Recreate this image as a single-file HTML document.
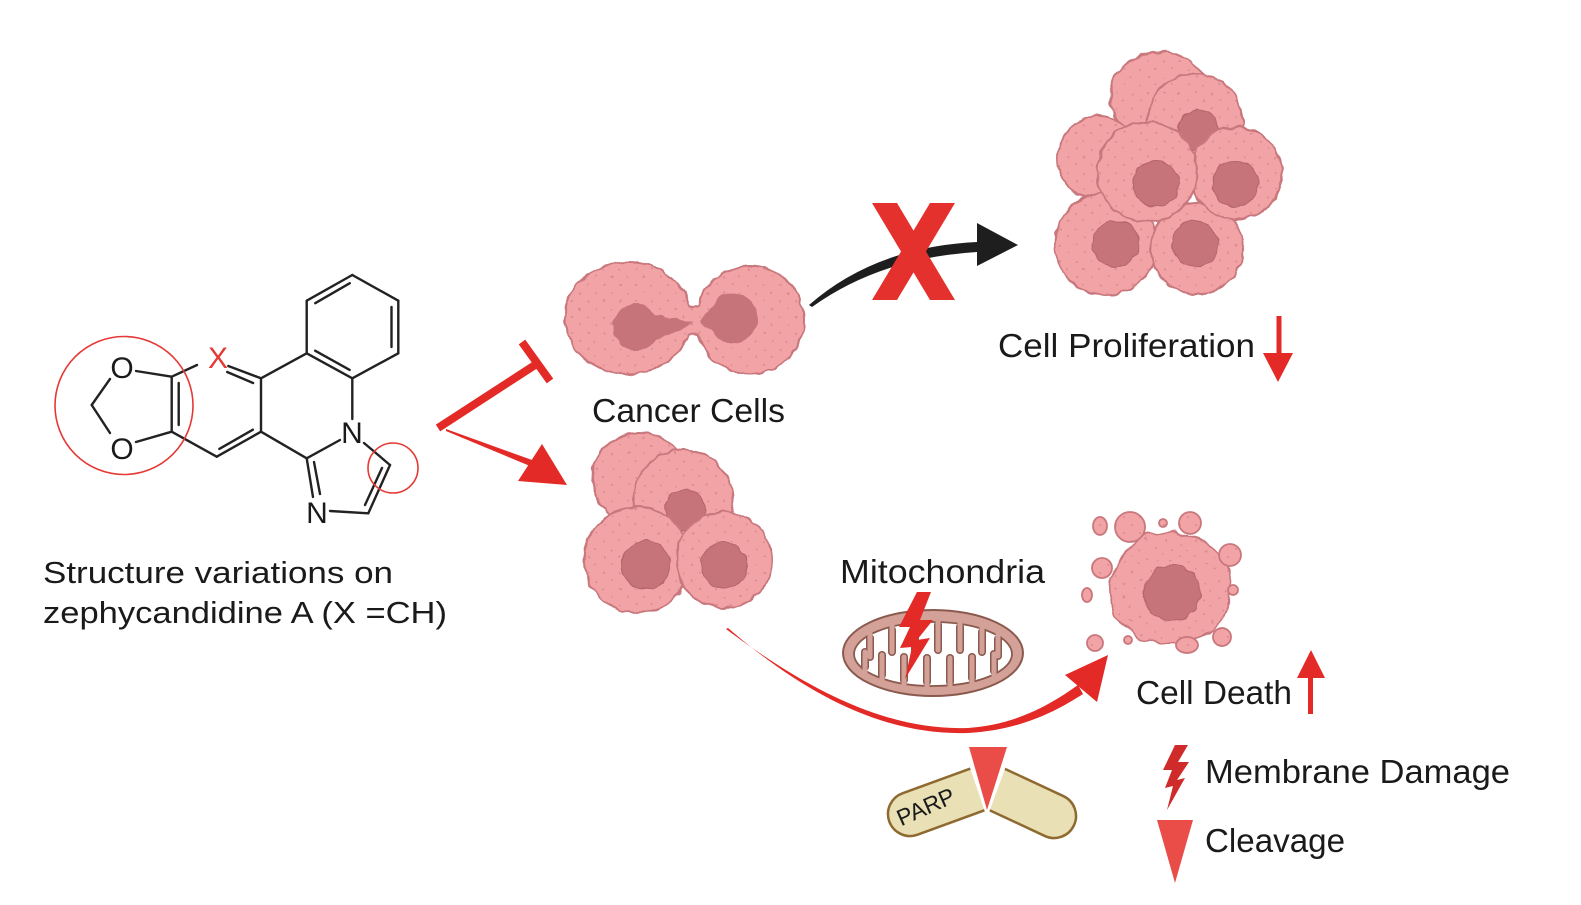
<!DOCTYPE html>
<html><head><meta charset="utf-8"><style>
html,body{margin:0;padding:0;background:#fff;}
svg{display:block;}
text{font-family:"Liberation Sans",Arial,sans-serif;fill:#1a1a1a;}
</style></head><body>
<svg width="1581" height="905" viewBox="0 0 1581 905" xmlns="http://www.w3.org/2000/svg">
<defs>
<pattern id="dots" patternUnits="userSpaceOnUse" width="16" height="16">
<rect width="16" height="16" fill="#F1A3A6"/>
<circle cx="4" cy="5" r="1" fill="#D98A8F"/>
<circle cx="12" cy="13" r="1" fill="#D98A8F"/>
</pattern>
<filter id="rough" x="-15%" y="-15%" width="130%" height="130%">
<feTurbulence type="fractalNoise" baseFrequency="0.11" numOctaves="1" seed="3"/>
<feDisplacementMap in="SourceGraphic" scale="6" xChannelSelector="R" yChannelSelector="G"/>
</filter>
<filter id="rough2" x="-25%" y="-25%" width="150%" height="150%">
<feTurbulence type="fractalNoise" baseFrequency="0.045" numOctaves="2" seed="7"/>
<feDisplacementMap in="SourceGraphic" scale="16" xChannelSelector="R" yChannelSelector="G"/>
</filter>
</defs>
<rect width="1581" height="905" fill="#fff"/>

<!-- ===== Chemical structure ===== -->
<g stroke="#222" stroke-width="2.4" fill="none" stroke-linecap="round">
<line x1="171.7" y1="376.7" x2="197" y2="365"/>
<line x1="228.3" y1="366" x2="261" y2="378.3"/>
<line x1="227.2" y1="372" x2="253.1" y2="383"/>
<line x1="261" y1="378.3" x2="261" y2="431.7"/>
<line x1="261" y1="431.7" x2="216.7" y2="456.7"/>
<line x1="252.9" y1="429.7" x2="219.3" y2="448.9"/>
<line x1="216.7" y1="456.7" x2="171.7" y2="431.7"/>
<line x1="171.7" y1="431.7" x2="171.7" y2="376.7"/>
<line x1="178.7" y1="383" x2="178.7" y2="425"/>
<line x1="171.7" y1="376.7" x2="136" y2="371"/>
<line x1="110" y1="379" x2="91.7" y2="405"/>
<line x1="91.7" y1="405" x2="110" y2="433"/>
<line x1="136" y1="442" x2="171.7" y2="431.7"/>
<line x1="261" y1="378.3" x2="306.7" y2="353.3"/>
<line x1="261" y1="431.7" x2="306.7" y2="458.3"/>
<line x1="352.3" y1="378.3" x2="352.3" y2="419"/>
<line x1="340" y1="440" x2="306.7" y2="458.3"/>
<line x1="306.7" y1="353.3" x2="306.7" y2="300.7"/>
<line x1="306.7" y1="300.7" x2="352.3" y2="275"/>
<line x1="315.2" y1="303.2" x2="349.8" y2="283.2"/>
<line x1="352.3" y1="275" x2="398.3" y2="300.7"/>
<line x1="398.3" y1="300.7" x2="398.3" y2="353.3"/>
<line x1="391.5" y1="307" x2="391.5" y2="347"/>
<line x1="398.3" y1="353.3" x2="352.3" y2="378.3"/>
<line x1="352.3" y1="378.3" x2="306.7" y2="353.3"/>
<line x1="349.7" y1="369.9" x2="315.1" y2="350.7"/>
<line x1="306.7" y1="458.3" x2="313" y2="497"/>
<line x1="314" y1="462" x2="320" y2="494"/>
<line x1="330" y1="511" x2="368.3" y2="513.3"/>
<line x1="368.3" y1="513.3" x2="390" y2="465"/>
<line x1="365" y1="505" x2="382" y2="468"/>
<line x1="390" y1="465" x2="364" y2="443"/>
</g>
<g font-size="30" text-anchor="middle">
<text x="122" y="378">O</text>
<text x="122" y="459">O</text>
<text x="352" y="443">N</text>
<text x="317" y="523">N</text>
<text x="218" y="368" style="fill:#E53935">X</text>
</g>
<circle cx="124" cy="405.5" r="69" fill="none" stroke="#E53935" stroke-width="1.6"/>
<circle cx="393" cy="468" r="25" fill="none" stroke="#E53935" stroke-width="1.6"/>

<text x="43" y="583" font-size="31" textLength="350" lengthAdjust="spacingAndGlyphs">Structure variations on</text>
<text x="43" y="623" font-size="31" textLength="404" lengthAdjust="spacingAndGlyphs">zephycandidine A (X =CH)</text>

<!-- ===== Inhibition & activation arrows ===== -->
<line x1="438" y1="428" x2="535" y2="365" stroke="#E32A26" stroke-width="8"/>
<line x1="522" y1="342" x2="550" y2="381" stroke="#E32A26" stroke-width="8"/>
<polygon points="446,429 532,460 530,466 446,431" fill="#E32A26"/>
<polygon points="518,481 542,444 567,485" fill="#E32A26"/>

<!-- ===== Dividing cancer cell ===== -->
<g filter="url(#rough)">
<circle cx="750" cy="320" r="53" fill="#C8777C" stroke="#C8777C" stroke-width="4"/>
<path d="M665,296 Q692,320 718,296 L718,346 Q692,320 665,346 Z" fill="#C8777C" stroke="#C8777C" stroke-width="4"/>
<ellipse cx="628" cy="318" rx="64" ry="57" fill="#C8777C"/>
<ellipse cx="628" cy="318" rx="62" ry="55" fill="url(#dots)"/>
<circle cx="750" cy="320" r="53" fill="url(#dots)"/>
<path d="M665,296 Q692,320 718,296 L718,346 Q692,320 665,346 Z" fill="url(#dots)"/>
<circle cx="636" cy="327" r="23" fill="#C7737A"/>
<polygon points="648,313 650,342 694,323" fill="#C7737A"/>
<circle cx="733" cy="318" r="25" fill="#C7737A"/>
<polygon points="716,305 716,334 700,321" fill="#C7737A"/>
</g>
<text x="592" y="422" font-size="33" textLength="193" lengthAdjust="spacingAndGlyphs">Cancer Cells</text>

<!-- ===== Bottom cluster ===== -->
<g filter="url(#rough)" stroke="#C8777C" stroke-width="2">
<ellipse cx="640" cy="478" rx="48" ry="45" fill="url(#dots)"/>
<circle cx="683" cy="500" r="50" fill="url(#dots)"/>
<circle cx="685" cy="510" r="20" fill="#C7737A" stroke="#B5646A" stroke-width="1"/>
<circle cx="637" cy="560" r="53" fill="url(#dots)"/>
<circle cx="646" cy="565" r="24" fill="#C7737A" stroke="#B5646A" stroke-width="1"/>
<circle cx="724" cy="560" r="48" fill="url(#dots)"/>
<circle cx="724" cy="565" r="23" fill="#C7737A" stroke="#B5646A" stroke-width="1"/>
</g>

<!-- ===== Black arrow with X ===== -->
<path d="M812,307 Q880,258 977,252 L977,242 Q875,247 809,305 Z" fill="#1e1e1e"/>
<polygon points="977,223 977,266 1018,245" fill="#1e1e1e"/>
<polygon points="872,203 897,203 955,300 930,300" fill="#E4312D"/>
<polygon points="930,203 955,203 897,300 872,300" fill="#E4312D"/>

<!-- ===== Proliferation cluster ===== -->
<g filter="url(#rough)" stroke="#C8777C" stroke-width="2">
<ellipse cx="1160" cy="97" rx="50" ry="45" fill="url(#dots)"/>
<circle cx="1195" cy="122" r="48" fill="url(#dots)"/>
<circle cx="1198" cy="130" r="20" fill="#C7737A" stroke="#B5646A" stroke-width="1"/>
<ellipse cx="1098" cy="158" rx="40" ry="42" fill="url(#dots)"/>
<circle cx="1106" cy="244" r="51" fill="url(#dots)"/>
<circle cx="1116" cy="244" r="23" fill="#C7737A" stroke="#B5646A" stroke-width="1"/>
<circle cx="1197" cy="248" r="46" fill="url(#dots)"/>
<circle cx="1195" cy="244" r="23" fill="#C7737A" stroke="#B5646A" stroke-width="1"/>
<circle cx="1236" cy="173" r="46" fill="url(#dots)"/>
<circle cx="1235" cy="184" r="23" fill="#C7737A" stroke="#B5646A" stroke-width="1"/>
<circle cx="1147" cy="172" r="50" fill="url(#dots)"/>
<circle cx="1156" cy="184" r="23" fill="#C7737A" stroke="#B5646A" stroke-width="1"/>
</g>
<text x="998" y="357" font-size="33" textLength="257" lengthAdjust="spacingAndGlyphs">Cell Proliferation</text>
<rect x="1276.5" y="316" width="5" height="40" fill="#E32A26"/>
<polygon points="1263,353 1293,353 1278,382" fill="#E32A26"/>

<!-- ===== Mitochondria ===== -->
<text x="840" y="583" font-size="33" textLength="205" lengthAdjust="spacingAndGlyphs">Mitochondria</text>
<ellipse cx="933" cy="653" rx="90" ry="43" fill="#D4A198" stroke="#8A5A4E" stroke-width="2"/>
<ellipse cx="933" cy="654" rx="79" ry="32" fill="#fff" stroke="#8A5A4E" stroke-width="1.8"/>
<g stroke-linecap="round" fill="none">
<g stroke="#8A5A4E" stroke-width="8">
<line x1="870" y1="638" x2="870" y2="657"/>
<line x1="892" y1="630" x2="892" y2="652"/>
<line x1="915" y1="626" x2="915" y2="650"/>
<line x1="938" y1="625" x2="938" y2="650"/>
<line x1="960" y1="627" x2="960" y2="650"/>
<line x1="982" y1="632" x2="982" y2="652"/>
<line x1="998" y1="639" x2="998" y2="656"/>
<line x1="865" y1="667" x2="865" y2="652"/>
<line x1="882" y1="675" x2="882" y2="655"/>
<line x1="904" y1="680" x2="904" y2="657"/>
<line x1="927" y1="682" x2="927" y2="658"/>
<line x1="950" y1="682" x2="950" y2="658"/>
<line x1="972" y1="678" x2="972" y2="657"/>
<line x1="994" y1="671" x2="994" y2="654"/>
</g>
<g stroke="#D4A198" stroke-width="5">
<line x1="870" y1="632" x2="870" y2="657"/>
<line x1="892" y1="624" x2="892" y2="652"/>
<line x1="915" y1="620" x2="915" y2="650"/>
<line x1="938" y1="619" x2="938" y2="650"/>
<line x1="960" y1="621" x2="960" y2="650"/>
<line x1="982" y1="626" x2="982" y2="652"/>
<line x1="998" y1="633" x2="998" y2="656"/>
<line x1="865" y1="673" x2="865" y2="652"/>
<line x1="882" y1="681" x2="882" y2="655"/>
<line x1="904" y1="686" x2="904" y2="657"/>
<line x1="927" y1="688" x2="927" y2="658"/>
<line x1="950" y1="688" x2="950" y2="658"/>
<line x1="972" y1="684" x2="972" y2="657"/>
<line x1="994" y1="677" x2="994" y2="654"/>
</g>
</g>
<polygon points="917,592 931,592 920,620 933,620 917,640 930,638 905,679 912,647 900,648 910,627 899,627" fill="#E32A26"/>

<!-- ===== Dead cell ===== -->
<g filter="url(#rough2)">
<ellipse cx="1171" cy="588" rx="62" ry="56" fill="#C8777C"/>
<ellipse cx="1171" cy="588" rx="60" ry="54" fill="url(#dots)"/>
</g>
<g filter="url(#rough)">
<circle cx="1172" cy="593" r="28" fill="#C7737A" stroke="#B5646A" stroke-width="1"/>
</g>
<g fill="url(#dots)" stroke="#C8777C" stroke-width="1.8">
<ellipse cx="1100" cy="526" rx="7" ry="9"/>
<circle cx="1130" cy="527" r="15"/>
<circle cx="1163" cy="523" r="4"/>
<circle cx="1190" cy="523" r="11"/>
<circle cx="1230" cy="555" r="11"/>
<circle cx="1233" cy="590" r="5"/>
<circle cx="1102" cy="568" r="10"/>
<ellipse cx="1087" cy="595" rx="5" ry="7"/>
<circle cx="1095" cy="643" r="8"/>
<circle cx="1128" cy="640" r="4"/>
<ellipse cx="1187" cy="645" rx="11" ry="8"/>
<circle cx="1222" cy="637" r="9"/>
</g>
<text x="1136" y="704" font-size="33" textLength="156" lengthAdjust="spacingAndGlyphs">Cell Death</text>
<rect x="1308" y="676" width="5" height="38" fill="#E32A26"/>
<polygon points="1297,678 1325,678 1311,650" fill="#E32A26"/>

<!-- ===== Red curved arrow ===== -->
<path d="M728,628 C800,690 880,736 968,733 C1020,730 1055,712 1083,694 L1078,685 C1050,705 1015,725 968,728 C885,731 805,688 726,629 Z" fill="#E32A26"/>
<polygon points="1065,675 1097,702 1108,655" fill="#E32A26"/>

<!-- ===== PARP ===== -->
<defs>
<clipPath id="lc"><rect x="850" y="740" width="137" height="120"/></clipPath>
<clipPath id="rc"><rect x="988" y="740" width="120" height="120"/></clipPath>
</defs>
<g clip-path="url(#lc)">
<rect x="-22" y="-22" width="120" height="44" rx="22" transform="translate(910,814) rotate(-20)" fill="#EAE0B5" stroke="#8E6A30" stroke-width="2.5"/>
</g>
<g clip-path="url(#rc)">
<rect x="-120" y="-22" width="142" height="44" rx="22" transform="translate(1054,816) rotate(25)" fill="#EAE0B5" stroke="#8E6A30" stroke-width="2.5"/>
</g>
<polygon points="962,744 1014,744 987,818" fill="#fff"/>
<polygon points="969,747 1007,747 987,810" fill="#EA4D47"/>
<text x="0" y="0" font-size="23" text-anchor="middle" transform="translate(929,814) rotate(-24)">PARP</text>

<!-- ===== Legend ===== -->
<polygon points="1175,745 1188,745 1178,762 1189,762 1177,780 1185,778 1167,810 1173,786 1165,788 1172,770 1163,770" fill="#D02B2B"/>
<text x="1205" y="783" font-size="33" textLength="305" lengthAdjust="spacingAndGlyphs">Membrane Damage</text>
<polygon points="1157,820 1193,820 1175,883" fill="#EA4D47"/>
<text x="1205" y="852" font-size="33" textLength="140" lengthAdjust="spacingAndGlyphs">Cleavage</text>
</svg>
</body></html>
